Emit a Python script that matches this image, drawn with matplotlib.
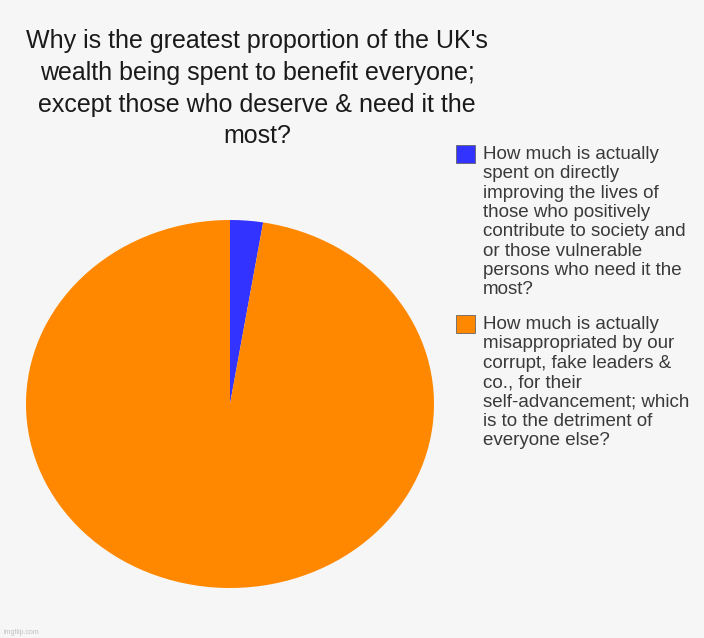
import matplotlib
matplotlib.use("Agg")
import matplotlib.pyplot as plt
from matplotlib.patches import Rectangle

title = ("Why is the greatest proportion of the UK's\n"
         "wealth being spent to benefit everyone;\n"
         "except those who deserve & need it the\n"
         "most?")
labels = [
    "How much is actually\nspent on directly\nimproving the lives of\nthose who positively\n"
    "contribute to society and\nor those vulnerable\npersons who need it the\nmost?",
    "How much is actually\nmisappropriated by our\ncorrupt, fake leaders &\nco., for their\n"
    "self-advancement; which\nis to the detriment of\neveryone else?",
]
values = [2.6, 97.4]
colors = ["#3333ff", "#ff8800"]

W, H = 704, 638
bg = "#f6f6f6"
fig = plt.figure(figsize=(W / 100, H / 100), dpi=100, facecolor=bg)
plt.rcParams['font.family'] = ['Liberation Sans', 'DejaVu Sans']

# pie axes (slightly stretched horizontally like the reference)
left, right, top, bottom = 26, 434, 220, 588
ax = fig.add_axes([left / W, 1 - bottom / H, (right - left) / W, (bottom - top) / H])
ax.set_facecolor(bg)
wedges, _ = ax.pie(values, colors=colors, startangle=90, counterclock=False,
                   wedgeprops=dict(linewidth=0))
ax.set_aspect('auto')
ax.set_xlim(-1, 1)
ax.set_ylim(-1, 1)
ax.axis('off')

fig.text(257 / W, 1 - 29 / H, title, ha='center', va='top', fontsize=18,
         color='#1a1a1a', linespacing=1.41)

# legend
tops = [145, 315]
for lab, col, t in zip(labels, colors, tops):
    fig.patches.append(Rectangle((456 / W, 1 - (t + 18) / H), 19 / W, 18 / H,
                                 transform=fig.transFigure, facecolor=col,
                                 edgecolor='#666666', linewidth=0.6))
    fig.text(483 / W, 1 - (t + 1) / H, lab, ha='left', va='top', fontsize=13.5,
             color='#3a3a3a', linespacing=1.18)

fig.text(4 / W, 1 - 632 / H, "imgflip.com", ha='left', va='center', fontsize=5,
         color='#c0c0c0')

fig.savefig("out.png", dpi=100, facecolor=bg)
